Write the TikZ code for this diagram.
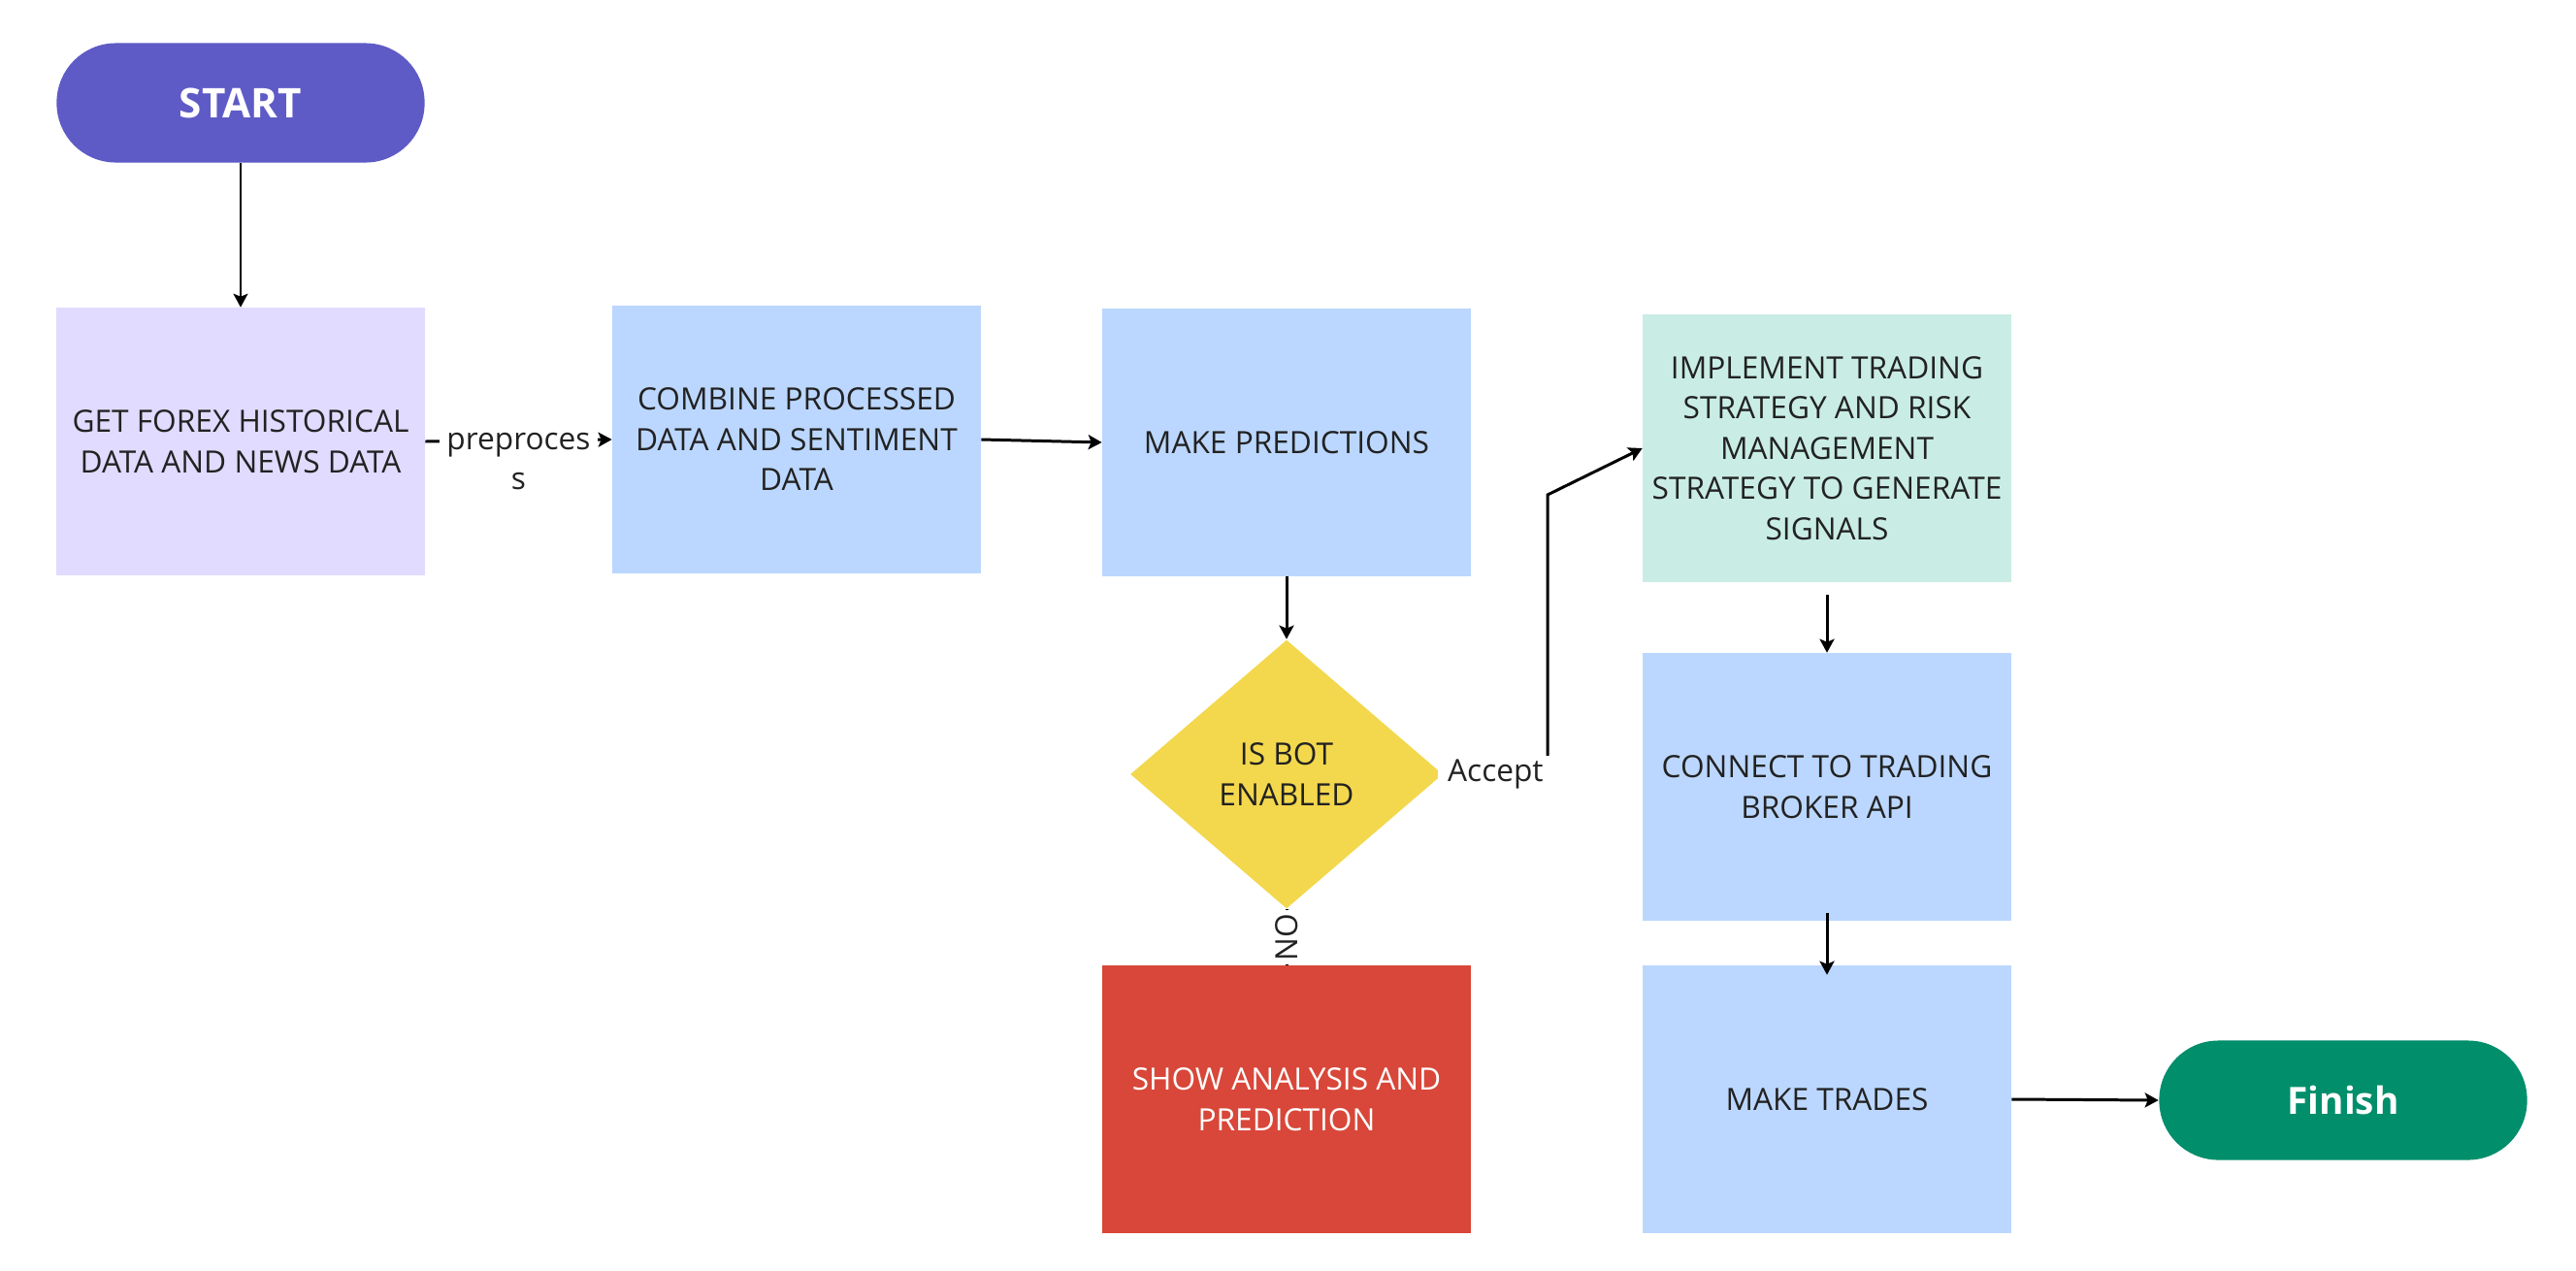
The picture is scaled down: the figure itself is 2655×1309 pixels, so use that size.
\documentclass[tikz,border=0pt]{standalone}
\usepackage{fontspec}
\setmainfont{Open Sans}
\usetikzlibrary{shapes.geometric,arrows.meta}
\definecolor{startc}{RGB}{94,91,198}
\definecolor{lavc}{RGB}{224,219,255}
\definecolor{bluec}{RGB}{187,215,255}
\definecolor{mintc}{RGB}{201,237,228}
\definecolor{yelc}{RGB}{243,216,77}
\definecolor{redc}{RGB}{216,71,57}
\definecolor{greenc}{RGB}{0,142,107}
\definecolor{txtc}{RGB}{34,34,34}
\begin{document}
\begin{tikzpicture}[x=0.01cm,y=-0.01cm,
  box/.style={rectangle, minimum width=3.79cm, minimum height=2.75cm, inner sep=0pt,
    align=center, font=\fontsize{9}{11.8}\selectfont, text=txtc},
  term/.style={rectangle, rounded corners=0.61cm, minimum width=3.79cm, minimum height=1.23cm,
    inner sep=0pt, text=white, font=\fontsize{11}{13}\selectfont\bfseries},
  dec/.style={diamond, minimum width=3.22cm, minimum height=2.77cm, inner sep=0pt, aspect=1.16,
    align=center, font=\fontsize{9}{11.8}\selectfont, text=txtc, fill=yelc},
  lbl/.style={fill=white, inner sep=1pt, align=center, font=\fontsize{9}{11.8}\selectfont, text=txtc},
  arr/.style={line width=0.85pt, draw=black, -{Stealth[length=1.4mm,width=1.5mm,inset=0.3mm]}},
  link/.style={line width=0.85pt, draw=black}]
\fill[white] (0,0) rectangle (2655,1309);
\useasboundingbox (0,0) rectangle (2655,1309);

\node[term, fill=startc, font=\fontsize{12}{14}\selectfont\bfseries] (start) at (248,106) {START};
\node[box, fill=lavc] (get) at (248,455) {GET FOREX HISTORICAL\\DATA AND NEWS DATA};
\node[box, fill=bluec] (comb) at (821,453) {COMBINE PROCESSED\\DATA AND SENTIMENT\\DATA};
\node[box, fill=bluec] (pred) at (1326,456) {MAKE PREDICTIONS};
\node[dec] (isbot) at (1326,798) {IS BOT\\ENABLED};
\node[box, fill=redc, text=white] (show) at (1326,1133) {SHOW ANALYSIS AND\\PREDICTION};
\node[box, fill=mintc] (impl) at (1883,462) {IMPLEMENT TRADING\\STRATEGY AND RISK\\MANAGEMENT\\STRATEGY TO GENERATE\\SIGNALS};
\node[box, fill=bluec] (conn) at (1883,811) {CONNECT TO TRADING\\BROKER API};
\node[box, fill=bluec] (trades) at (1883,1133) {MAKE TRADES};
\node[term, fill=greenc] (fin) at (2415,1134) {Finish};

\coordinate (b1) at (1595,798);
\coordinate (b2) at (1595,510);

\draw[arr, line width=0.6pt] (start) -- (get);
\draw[arr] (get.east) -- node[lbl, inner xsep=2pt, yshift=-0.215cm] {preproces\\s} (comb.west);
\draw[arr] (comb.east) -- (pred.west);
\draw[arr] (pred) -- (isbot);
\draw[arr] (isbot.east) -- node[lbl, inner xsep=3pt] {Accept} (b1) -- (b2) -- (impl.west);
\draw[link] (isbot.south) -- node[lbl, rotate=90] {NO} (show.north);
\draw[arr, shorten <=0.13cm] (impl.south) -- (conn.north);
\draw[arr, shorten <=-0.08cm, shorten >=-0.1cm] (conn.south) -- (trades.north);
\draw[arr] (trades.east) -- (fin.west);
\end{tikzpicture}
\end{document}
